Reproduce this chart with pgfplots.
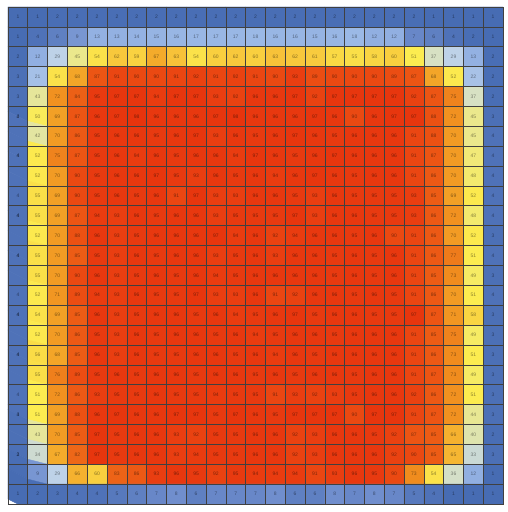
\documentclass[border=0pt]{standalone}
\usepackage{pgfplots}
\pgfplotsset{compat=1.18}
\usepackage{pgfplotstable}
\usepackage{fontspec}
\setmainfont{Liberation Sans}

\pgfplotsset{
  colormap={heat}{
    rgb255(0)=(68,106,178) rgb255(4)=(79,114,184) rgb255(8)=(112,142,205)
    rgb255(12)=(145,175,225) rgb255(18)=(155,185,230) rgb255(29)=(190,210,232)
    rgb255(37)=(215,225,195) rgb255(45)=(235,232,140) rgb255(51)=(252,236,80)
    rgb255(56)=(250,220,70) rgb255(62)=(248,200,60) rgb255(68)=(243,165,40)
    rgb255(73)=(240,140,30) rgb255(80)=(237,110,25) rgb255(87)=(236,85,20)
    rgb255(93)=(233,62,17) rgb255(100)=(230,48,12)
  }
}

% one value per cell, row by row from the top
\pgfplotstableread[row sep=\\]{
v\\
1\\ 1\\ 2\\ 2\\ 2\\ 2\\ 2\\ 2\\ 2\\ 2\\ 2\\ 2\\ 2\\ 2\\ 2\\ 2\\ 2\\ 2\\ 2\\ 2\\ 2\\ 1\\ 1\\ 1\\ 1\\
1\\ 4\\ 6\\ 9\\ 13\\ 13\\ 14\\ 15\\ 16\\ 17\\ 17\\ 17\\ 18\\ 16\\ 16\\ 15\\ 16\\ 18\\ 12\\ 12\\ 7\\ 6\\ 4\\ 2\\ 1\\
2\\ 12\\ 29\\ 45\\ 54\\ 62\\ 59\\ 67\\ 63\\ 54\\ 60\\ 62\\ 60\\ 63\\ 62\\ 61\\ 57\\ 55\\ 58\\ 60\\ 51\\ 37\\ 29\\ 13\\ 2\\
3\\ 21\\ 54\\ 68\\ 87\\ 91\\ 90\\ 90\\ 91\\ 92\\ 91\\ 92\\ 91\\ 90\\ 93\\ 89\\ 90\\ 90\\ 90\\ 89\\ 87\\ 68\\ 52\\ 22\\ 2\\
3\\ 43\\ 72\\ 84\\ 95\\ 97\\ 97\\ 94\\ 97\\ 97\\ 93\\ 92\\ 96\\ 96\\ 97\\ 92\\ 97\\ 97\\ 97\\ 97\\ 92\\ 87\\ 75\\ 37\\ 2\\
2\\ 50\\ 69\\ 87\\ 96\\ 97\\ 98\\ 96\\ 96\\ 96\\ 97\\ 98\\ 96\\ 96\\ 96\\ 97\\ 96\\ 90\\ 96\\ 97\\ 97\\ 88\\ 72\\ 45\\ 3\\
4\\ 42\\ 70\\ 86\\ 95\\ 96\\ 96\\ 95\\ 96\\ 97\\ 93\\ 96\\ 95\\ 96\\ 97\\ 96\\ 95\\ 96\\ 96\\ 96\\ 91\\ 88\\ 70\\ 45\\ 4\\
4\\ 52\\ 75\\ 87\\ 95\\ 96\\ 94\\ 96\\ 95\\ 96\\ 96\\ 94\\ 97\\ 96\\ 95\\ 96\\ 97\\ 96\\ 96\\ 96\\ 91\\ 87\\ 70\\ 47\\ 4\\
4\\ 52\\ 70\\ 90\\ 95\\ 96\\ 96\\ 97\\ 95\\ 93\\ 96\\ 95\\ 96\\ 94\\ 96\\ 97\\ 96\\ 95\\ 96\\ 96\\ 91\\ 86\\ 70\\ 48\\ 4\\
4\\ 55\\ 69\\ 90\\ 95\\ 96\\ 95\\ 96\\ 91\\ 97\\ 93\\ 93\\ 96\\ 96\\ 95\\ 93\\ 96\\ 95\\ 95\\ 95\\ 93\\ 85\\ 69\\ 52\\ 4\\
4\\ 55\\ 69\\ 87\\ 94\\ 93\\ 96\\ 95\\ 96\\ 96\\ 93\\ 95\\ 95\\ 95\\ 97\\ 93\\ 96\\ 96\\ 95\\ 95\\ 93\\ 86\\ 72\\ 48\\ 4\\
4\\ 52\\ 70\\ 88\\ 96\\ 93\\ 95\\ 96\\ 96\\ 96\\ 97\\ 94\\ 96\\ 92\\ 94\\ 96\\ 96\\ 95\\ 96\\ 90\\ 91\\ 86\\ 70\\ 52\\ 3\\
4\\ 55\\ 70\\ 85\\ 95\\ 93\\ 96\\ 95\\ 96\\ 96\\ 93\\ 95\\ 96\\ 93\\ 96\\ 96\\ 95\\ 96\\ 95\\ 96\\ 91\\ 86\\ 77\\ 51\\ 4\\
4\\ 55\\ 70\\ 90\\ 96\\ 93\\ 95\\ 96\\ 95\\ 96\\ 94\\ 95\\ 96\\ 96\\ 96\\ 96\\ 95\\ 96\\ 95\\ 96\\ 91\\ 85\\ 73\\ 49\\ 3\\
4\\ 52\\ 71\\ 89\\ 94\\ 93\\ 96\\ 95\\ 95\\ 97\\ 93\\ 93\\ 96\\ 91\\ 92\\ 96\\ 96\\ 95\\ 96\\ 95\\ 91\\ 86\\ 70\\ 51\\ 4\\
4\\ 54\\ 69\\ 85\\ 96\\ 93\\ 95\\ 96\\ 96\\ 95\\ 96\\ 94\\ 95\\ 96\\ 97\\ 95\\ 96\\ 96\\ 95\\ 95\\ 97\\ 87\\ 71\\ 58\\ 3\\
4\\ 52\\ 70\\ 86\\ 95\\ 93\\ 96\\ 95\\ 96\\ 96\\ 95\\ 96\\ 94\\ 95\\ 96\\ 96\\ 95\\ 96\\ 96\\ 96\\ 91\\ 85\\ 75\\ 49\\ 3\\
4\\ 56\\ 68\\ 85\\ 96\\ 93\\ 96\\ 95\\ 95\\ 96\\ 96\\ 95\\ 96\\ 94\\ 96\\ 95\\ 96\\ 96\\ 96\\ 96\\ 91\\ 86\\ 73\\ 51\\ 3\\
4\\ 55\\ 76\\ 89\\ 95\\ 96\\ 95\\ 96\\ 96\\ 95\\ 96\\ 96\\ 95\\ 96\\ 95\\ 96\\ 96\\ 95\\ 96\\ 96\\ 91\\ 87\\ 73\\ 49\\ 3\\
4\\ 51\\ 72\\ 86\\ 93\\ 95\\ 95\\ 96\\ 95\\ 95\\ 94\\ 95\\ 95\\ 91\\ 93\\ 92\\ 93\\ 95\\ 96\\ 96\\ 92\\ 86\\ 72\\ 51\\ 3\\
4\\ 51\\ 69\\ 88\\ 96\\ 97\\ 96\\ 96\\ 97\\ 97\\ 95\\ 97\\ 96\\ 95\\ 97\\ 97\\ 97\\ 90\\ 97\\ 97\\ 91\\ 87\\ 72\\ 44\\ 3\\
3\\ 43\\ 70\\ 85\\ 97\\ 95\\ 96\\ 96\\ 93\\ 92\\ 95\\ 95\\ 96\\ 96\\ 92\\ 93\\ 96\\ 96\\ 95\\ 92\\ 87\\ 85\\ 66\\ 40\\ 2\\
3\\ 34\\ 67\\ 82\\ 97\\ 95\\ 96\\ 96\\ 93\\ 94\\ 95\\ 95\\ 96\\ 96\\ 92\\ 93\\ 96\\ 96\\ 96\\ 92\\ 90\\ 85\\ 65\\ 33\\ 3\\
2\\ 9\\ 29\\ 66\\ 60\\ 83\\ 86\\ 93\\ 96\\ 95\\ 92\\ 95\\ 94\\ 94\\ 94\\ 91\\ 93\\ 96\\ 95\\ 90\\ 73\\ 54\\ 36\\ 12\\ 1\\
1\\ 2\\ 3\\ 4\\ 4\\ 5\\ 6\\ 7\\ 8\\ 6\\ 7\\ 7\\ 7\\ 8\\ 6\\ 6\\ 8\\ 7\\ 8\\ 7\\ 5\\ 4\\ 1\\ 1\\ 1\\
}\heatdata

\begin{document}
\begin{tikzpicture}
\path[use as bounding box] (0,0) rectangle (508pt,512pt);
\begin{axis}[
  at={(8pt,8pt)}, anchor=south west,
  scale only axis, width=495pt, height=497pt,
  xmin=-0.5, xmax=24.5, ymin=-0.5, ymax=24.5,
  xtick={-0.5,0.5,...,24.5}, ytick={-0.5,0.5,...,24.5},
  xticklabels={}, yticklabels={}, major tick length=0pt,
  grid=major, major grid style={draw=black!75, line width=0.6pt},
  axis line style={draw=black!75, line width=0.6pt},
  axis on top,
  colormap name=heat, point meta min=0, point meta max=100,
  /pgf/number format/assume math mode=true,
  nodes near coords align=center,
  every node near coord/.append style={font=\fontsize{5}{5}\selectfont,
    text=black, text opacity=0.45, anchor=center, inner sep=0pt},
]
\addplot[matrix plot*, mesh/cols=25, mesh/rows=25, point meta=explicit,
  nodes near coords]
  table[x index=0, y index=0, x expr={mod(\coordindex,25)},
    y expr={24-floor(\coordindex/25)}, meta=v] {\heatdata};
\end{axis}
\end{tikzpicture}
\end{document}
